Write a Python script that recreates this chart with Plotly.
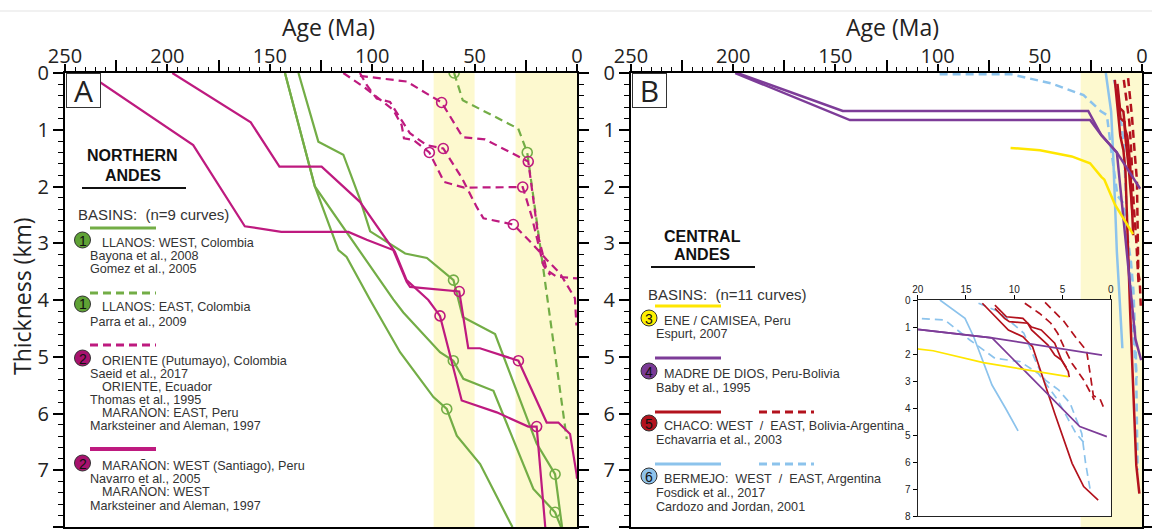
import plotly.graph_objects as go

W, H = 1152, 529


def px(x):
    return x / W


def py(y):
    return 1 - y / H


# ---------------- Panel A: Northern Andes ----------------
llanos_west_a_age = [136, 126.3, 114.1, 105.9, 101.0, 83.9, 73.3, 60.3, 55.8, 40.0, 19.7, 10.7, 7.3]
llanos_west_a_th = [0, 1.21, 1.44, 2.23, 2.79, 3.18, 3.26, 3.65, 4.30, 4.60, 6.53, 7.07, 8.0]
llanos_west_a_pts = [7, 11]

llanos_west_b_age = [142.6, 128, 116.5, 112.5, 101, 86.4, 70.1, 63.6, 58.7, 47.3, 32.7, 31.5]
llanos_west_b_th = [0, 2.0, 3.12, 3.24, 4.0, 4.92, 5.71, 5.92, 6.39, 6.89, 7.92, 8.0]
llanos_west_b_pts = [7]

llanos_west_c_age = [142.6, 128, 89.7, 84.8, 66.9, 60.4, 55.5, 40.8, 21.3, 10.7, 7.8]
llanos_west_c_th = [0, 2.0, 3.99, 4.22, 4.92, 5.07, 5.39, 5.60, 7.33, 7.74, 8.0]
llanos_west_c_pts = [5, 9]

llanos_east_age = [60, 55.8, 28.7, 24.3, 5.0]
llanos_east_th = [0, 0.48, 0.98, 1.40, 6.45]
llanos_east_pts = [0, 3]

maranon_west_a_age = [239.5, 187.4, 162.2, 144.4, 111.6, 102.7, 89.7, 83.2, 81.5, 57.5, 53.1,
                      47.4, 28.6, 14.8, 9.1, 3.4, 0.2, 0]
maranon_west_a_th = [0, 1.27, 2.70, 2.80, 2.80, 2.94, 3.12, 3.68, 3.77, 3.85, 4.85,
                     4.85, 5.07, 6.16, 6.16, 6.36, 7.07, 7.15]
maranon_west_a_pts = [9, 12]

maranon_west_b_age = [197.6, 159.3, 145.3, 124.7, 106, 96.2, 88.9, 83.2, 72.6, 66.9, 56.3,
                      39.2, 23.8, 19.7, 15.5]
maranon_west_b_th = [0, 0.87, 1.65, 1.65, 2.27, 2.77, 3.15, 3.65, 4.0, 4.28, 5.77,
                     5.98, 6.23, 6.23, 8.0]
maranon_west_b_pts = [9, 13]

oriente_a_age = [106, 83.2, 66.1, 55.8, 44.9, 23.8, 18.9, 14.8, 9.9, 1.8, 0]
oriente_a_th = [0.05, 0.15, 0.52, 1.13, 1.17, 1.56, 2.88, 3.47, 3.59, 3.62, 3.62]
oriente_a_pts = [2, 5]

oriente_b_age = [114.1, 103.5, 89.7, 85.6, 84.5, 79.9, 72.1, 64.9, 55.1, 26.5, 22.1, 16.4, 13.1]
oriente_b_th = [0, 0.26, 0.65, 0.92, 1.15, 1.18, 1.40, 1.92, 2.02, 2.01, 2.53, 3.39, 3.56]
oriente_b_pts = [6, 9]

oriente_c_age = [106, 102.7, 97.8, 91.3, 88.9, 81.6, 73.5, 65.3, 56.2, 49.0, 45.7, 31.1,
                 21.3, 14.8, 8.3, 1.0, 0.3]
oriente_c_th = [0, 0.21, 0.45, 0.51, 0.65, 1.06, 1.27, 1.33, 1.85, 2.36, 2.56, 2.67,
                3.03, 3.29, 3.53, 3.97, 4.45]
oriente_c_pts = [7, 11]

# ---------------- Panel B: Central Andes ----------------
ene_age = [64.3, 49.9, 34.4, 25.4, 19.9, 18.4, 13.2, 4.4]
ene_th = [1.32, 1.36, 1.47, 1.59, 1.83, 1.88, 2.32, 2.84]

madre_a_age = [198, 146.4, 26.3, 20, 12.3, 0.9]
madre_a_th = [0, 0.67, 0.67, 1.09, 1.40, 2.04]
madre_b_age = [199, 142.9, 25.4, 20, 12.3, 3.2, 0.4]
madre_b_th = [0, 0.83, 0.83, 1.09, 1.40, 4.69, 5.06]

chaco_w_a_age = [13.3, 11.9, 10.6, 9.1, 8.1, 5.8, 4.0, 2.8, 1.3]
chaco_w_a_th = [0.12, 0.62, 1.11, 1.36, 1.73, 4.2, 6.05, 6.91, 7.41]
chaco_w_b_age = [12.0, 10.8, 9.1, 8.2, 7.2, 5.8, 5.1, 4.4, 4.3]
chaco_w_b_th = [0.19, 0.62, 0.68, 1.0, 1.11, 1.6, 2.22, 2.65, 2.86]
chaco_w_c_age = [12.0, 11.0, 10.5, 8.6, 8.2, 6.5, 5.8, 5.1, 4.6]
chaco_w_c_th = [0.31, 0.68, 0.80, 0.86, 1.11, 1.67, 2.04, 2.22, 2.5]
chaco_e_a_age = [8.9, 7.4, 6.2, 5.5, 4.7, 4.0, 2.8, 2.1, 1.7]
chaco_e_a_th = [0.12, 0.49, 0.86, 1.23, 1.85, 2.35, 2.96, 3.46, 3.70]
chaco_e_b_age = [6.8, 4.9, 3.5, 2.5, 2.1, 1.8, 1.1, 0.6]
chaco_e_b_th = [0.09, 0.77, 1.44, 1.88, 2.8, 3.54, 3.67, 4.1]

bermejo_w_age = [17.7, 15.1, 14.2, 13.2, 12.3, 10.9, 9.6]
bermejo_w_th = [0, 0.68, 1.36, 2.28, 3.15, 4.01, 4.85]
bermejo_e_a_age = [99, 64.4, 44.7, 28.6, 19.94, 17.2, 14.6, 12.0, 9.4, 7.5, 5.5, 3.6, 2.57]
bermejo_e_a_th = [0.02, 0.02, 0.18, 0.39, 0.68, 0.74, 1.48, 2.16, 2.28, 2.72, 3.70, 4.94, 5.37]
bermejo_e_b_age = [13.7, 11.6, 9.0, 8.3, 7.6, 6.8, 5.4, 4.2, 3.0, 2.6, 2.14]
bermejo_e_b_th = [0.12, 0.43, 1.23, 1.79, 2.41, 2.96, 3.33, 3.83, 4.94, 6.05, 7.0]

# shaded age windows (Ma)
bands_a = [(70, 50), (30, 0)]
bands_b = [(30, 0)]

AGE_RANGE = [250, 0]
THICK_RANGE = [8, 0]
INSET_AGE_RANGE = [20, 0]

GREEN = "#73ad46"
MAGENTA = "#be1a7f"
PURPLE = "#7d3c98"
RED = "#b3121d"
YELLOW = "#ffe600"
BLUE = "#8cc3ec"
BAND = "#fdf9cf"
DASH = "8px,5px"
TXT = "#333333"

fig = go.Figure()


def add_curve(xa, ya, ages, th, color, width, dash=None, pts=None):
    fig.add_trace(go.Scatter(
        x=ages, y=th, xaxis=xa, yaxis=ya, mode="lines",
        line=dict(color=color, width=width, dash=dash),
        showlegend=False, hoverinfo="skip"))
    if pts:
        fig.add_trace(go.Scatter(
            x=[ages[i] for i in pts], y=[th[i] for i in pts], xaxis=xa, yaxis=ya,
            mode="markers",
            marker=dict(symbol="circle-open", size=10, color=color, line=dict(width=1.6)),
            showlegend=False, hoverinfo="skip"))


# Panel A traces
for a, t, p in [(llanos_west_a_age, llanos_west_a_th, llanos_west_a_pts),
                (llanos_west_b_age, llanos_west_b_th, llanos_west_b_pts),
                (llanos_west_c_age, llanos_west_c_th, llanos_west_c_pts)]:
    add_curve("x", "y", a, t, GREEN, 2.2, None, p)
add_curve("x", "y", llanos_east_age, llanos_east_th, GREEN, 2.2, DASH, llanos_east_pts)
for a, t, p in [(maranon_west_a_age, maranon_west_a_th, maranon_west_a_pts),
                (maranon_west_b_age, maranon_west_b_th, maranon_west_b_pts)]:
    add_curve("x", "y", a, t, MAGENTA, 2.2, None, p)
for a, t, p in [(oriente_a_age, oriente_a_th, oriente_a_pts),
                (oriente_b_age, oriente_b_th, oriente_b_pts),
                (oriente_c_age, oriente_c_th, oriente_c_pts)]:
    add_curve("x", "y", a, t, MAGENTA, 2.2, DASH, p)

# long-tick helper axes (need a trace to be drawn)
fig.add_trace(go.Scatter(x=[], y=[], xaxis="x4", yaxis="y", showlegend=False))
fig.add_trace(go.Scatter(x=[], y=[], xaxis="x5", yaxis="y2", showlegend=False))


def central_andes(xa, ya, w):
    add_curve(xa, ya, bermejo_e_a_age, bermejo_e_a_th, BLUE, w, DASH)
    add_curve(xa, ya, bermejo_e_b_age, bermejo_e_b_th, BLUE, w, DASH)
    add_curve(xa, ya, bermejo_w_age, bermejo_w_th, BLUE, w)
    for a, t in [(chaco_w_a_age, chaco_w_a_th), (chaco_w_b_age, chaco_w_b_th),
                 (chaco_w_c_age, chaco_w_c_th)]:
        add_curve(xa, ya, a, t, RED, w)
    for a, t in [(chaco_e_a_age, chaco_e_a_th), (chaco_e_b_age, chaco_e_b_th)]:
        add_curve(xa, ya, a, t, RED, w, DASH)
    add_curve(xa, ya, madre_a_age, madre_a_th, PURPLE, w)
    add_curve(xa, ya, madre_b_age, madre_b_th, PURPLE, w)
    add_curve(xa, ya, ene_age, ene_th, YELLOW, w)


central_andes("x2", "y2", 2.5)

# inset background, then the zoomed view of the youngest 20 Myr
fig.add_trace(go.Scatter(
    x=[INSET_AGE_RANGE[0], INSET_AGE_RANGE[1], INSET_AGE_RANGE[1], INSET_AGE_RANGE[0]],
    y=[THICK_RANGE[1], THICK_RANGE[1], THICK_RANGE[0], THICK_RANGE[0]],
    xaxis="x3", yaxis="y3", fill="toself", fillcolor="rgba(255,255,255,0.86)",
    mode="none", showlegend=False, hoverinfo="skip"))
central_andes("x3", "y3", 1.7)

tickfont = dict(family="Open Sans", size=20, color="#222")
common_x = dict(range=AGE_RANGE, side="top", tickvals=[250, 200, 150, 100, 50, 0],
                ticks="outside", ticklen=7, tickwidth=1.5, tickcolor="black",
                ticklabelstandoff=-7,
                showline=True, linewidth=2, linecolor="black", mirror="ticks",
                minor=dict(dtick=5, ticks="outside", ticklen=4, tickwidth=1, tickcolor="black"),
                tickfont=tickfont, showgrid=False, zeroline=False, fixedrange=True,
                automargin=False)
common_y = dict(range=THICK_RANGE, dtick=1, ticks="outside", ticklen=10, tickwidth=1.5,
                tickcolor="black", showline=True, linewidth=2, linecolor="black",
                mirror="ticks",
                minor=dict(dtick=0.2, ticks="outside", ticklen=5, tickwidth=1, tickcolor="black"),
                tickfont=tickfont, showgrid=False, zeroline=False, fixedrange=True,
                automargin=False)
long_ticks = dict(range=AGE_RANGE, side="top", tickvals=[225, 175, 125, 75, 25],
                  ticks="outside", ticklen=12, tickwidth=1.5, tickcolor="black",
                  showticklabels=False, showline=False, showgrid=False, zeroline=False,
                  automargin=False)
inset_font = dict(family="Liberation Sans", size=10, color="#222")

fig.update_layout(
    width=W, height=H,
    margin=dict(l=0, r=0, t=0, b=0, pad=0, autoexpand=False),
    paper_bgcolor="white", plot_bgcolor="white",
    showlegend=False,
    xaxis=dict(domain=[px(65), px(577)], anchor="y", **common_x),
    yaxis=dict(domain=[py(527), py(73)], anchor="x", **common_y),
    xaxis2=dict(domain=[px(631), px(1142)], anchor="y2", **common_x),
    yaxis2=dict(domain=[py(527), py(73)], anchor="x2", **common_y),
    xaxis4=dict(overlaying="x", anchor="y", **long_ticks),
    xaxis5=dict(overlaying="x2", anchor="y2", **long_ticks),
    xaxis3=dict(domain=[px(917.7), px(1110.7)], anchor="y3", range=INSET_AGE_RANGE,
                side="top", tickvals=[20, 15, 10, 5, 0], ticks="outside", ticklen=4,
                ticklabelstandoff=-2,
                tickcolor="black", showline=True, linewidth=1.2, linecolor="#222",
                mirror=True, showgrid=False, zeroline=False, tickfont=inset_font,
                automargin=False),
    yaxis3=dict(domain=[py(516), py(300)], anchor="x3", range=THICK_RANGE, dtick=1,
                ticks="outside", ticklen=4, tickcolor="black", showline=True,
                linewidth=1.2, linecolor="#222", mirror=True, showgrid=False,
                zeroline=False, tickfont=inset_font, automargin=False),
)

shapes = []
# shaded windows
for a0, a1 in bands_a:
    shapes.append(dict(type="rect", xref="x", yref="y domain", x0=a0, x1=a1, y0=0, y1=1,
                       fillcolor=BAND, line=dict(width=0), layer="below"))
for a0, a1 in bands_b:
    shapes.append(dict(type="rect", xref="x2", yref="y2 domain", x0=a0, x1=a1, y0=0, y1=1,
                       fillcolor=BAND, line=dict(width=0), layer="below"))
# thin rule across the top
shapes.append(dict(type="line", xref="paper", yref="paper", x0=0, x1=1, y0=py(11), y1=py(11),
                   line=dict(color="#e3e3e3", width=1)))

annotations = []


def text(x, y, s, size=12.6, anchor="left", bold=False, color=TXT, family="Liberation Sans"):
    annotations.append(dict(x=px(x), y=py(y), xref="paper", yref="paper", text=s,
                            showarrow=False, xanchor=anchor, yanchor="middle", borderpad=0,
                            font=dict(family=family, size=size, color=color,
                                      weight="bold" if bold else "normal")))


def sample(x0, x1, y, color, dash=None, width=3):
    shapes.append(dict(type="line", xref="paper", yref="paper", x0=px(x0), x1=px(x1),
                       y0=py(y), y1=py(y), line=dict(color=color, width=width, dash=dash)))


def badge(cx, cy, n, color):
    r = 8
    shapes.append(dict(type="circle", xref="paper", yref="paper", x0=px(cx - r), x1=px(cx + r),
                       y0=py(cy + r), y1=py(cy - r), fillcolor=color,
                       line=dict(color="#333", width=1)))
    text(cx, cy + 0.5, n, size=14, anchor="center", color="#111")


# axis titles
text(328, 27, "Age (Ma)", size=23, anchor="center", color="#222", family="Open Sans")
text(892, 27, "Age (Ma)", size=23, anchor="center", color="#222", family="Open Sans")
annotations.append(dict(x=px(22), y=py(296), xref="paper", yref="paper", text="Thickness (km)",
                        textangle=-90, showarrow=False, xanchor="center", yanchor="middle",
                        font=dict(family="Open Sans", size=23, color="#222")))

# panel letters
for lx, letter in [(83.5, "A"), (649.5, "B")]:
    annotations.append(dict(x=px(lx), y=py(90.5), xref="paper", yref="paper", text=letter,
                            showarrow=False, xanchor="center", yanchor="middle",
                            width=33, height=33, borderpad=0, bgcolor="white",
                            bordercolor="#333", borderwidth=1,
                            font=dict(family="Open Sans", size=30, color="#222")))

# Northern Andes legend
text(132.5, 156, "NORTHERN", size=16, anchor="center", bold=True, color="#111")
text(132.5, 175, "ANDES", size=16, anchor="center", bold=True, color="#111")
shapes.append(dict(type="line", xref="paper", yref="paper", x0=px(82), x1=px(186),
                   y0=py(188), y1=py(188), line=dict(color="#111", width=2)))
text(77, 214, "BASINS:\u00a0\u00a0(n=9 curves)", size=15)
sample(90, 156, 228, GREEN)
badge(82.5, 240, "1", "#5fa235")
text(100.5, 243, "LLANOS: WEST, Colombia")
text(89, 256, "Bayona et al., 2008")
text(89, 268.5, "Gomez et al., 2005")
sample(90, 156, 293, GREEN, DASH)
badge(82.5, 304, "1", "#5fa235")
text(100.5, 307, "LLANOS: EAST, Colombia")
text(89, 322, "Parra et al., 2009")
sample(90, 156, 345, MAGENTA, DASH)
badge(82.5, 358, "2", "#a8116e")
text(100.5, 361, "ORIENTE (Putumayo), Colombia")
text(89, 374, "Saeid et al., 2017")
text(100.5, 387, "ORIENTE, Ecuador")
text(89, 400, "Thomas et al., 1995")
text(100.5, 413, "MARAÑON: EAST, Peru")
text(89, 426, "Marksteiner and Aleman, 1997")
sample(90, 156, 449, MAGENTA, None, 4)
badge(82.5, 463, "2", "#a8116e")
text(100.5, 466, "MARAÑON: WEST (Santiago), Peru")
text(89, 479, "Navarro et al., 2005")
text(100.5, 492, "MARAÑON: WEST")
text(89, 506, "Marksteiner and Aleman, 1997")

# Central Andes legend
text(702, 236, "CENTRAL", size=16, anchor="center", bold=True, color="#111")
text(702, 255, "ANDES", size=16, anchor="center", bold=True, color="#111")
shapes.append(dict(type="line", xref="paper", yref="paper", x0=px(651), x1=px(755),
                   y0=py(267), y1=py(267), line=dict(color="#111", width=2)))
text(646.5, 294, "BASINS:\u00a0\u00a0(n=11 curves)", size=15)
sample(655, 721, 306, YELLOW)
badge(649, 318, "3", "#fff000")
text(663, 321, "ENE / CAMISEA, Peru")
text(655, 334, "Espurt, 2007")
sample(655, 721, 358, PURPLE)
badge(649, 371, "4", "#7a3a95")
text(663, 374, "MADRE DE DIOS, Peru-Bolivia")
text(655, 388, "Baby et al., 1995")
sample(655, 721, 412, RED)
sample(759, 814, 412, RED, DASH)
badge(649, 423, "5", "#b3121d")
text(663, 426, "CHACO: WEST\u00a0\u00a0/\u00a0\u00a0EAST, Bolivia-Argentina")
text(655, 440, "Echavarria et al., 2003")
sample(655, 721, 464, BLUE)
sample(759, 814, 464, BLUE, DASH)
badge(649, 476, "6", "#8fc3ea")
text(663, 479, "BERMEJO:\u00a0\u00a0WEST\u00a0\u00a0/\u00a0\u00a0EAST, Argentina")
text(655, 493, "Fosdick et al., 2017")
text(655, 506.5, "Cardozo and Jordan, 2001")

fig.update_layout(shapes=shapes, annotations=annotations)
fig.write_html("out.html")
